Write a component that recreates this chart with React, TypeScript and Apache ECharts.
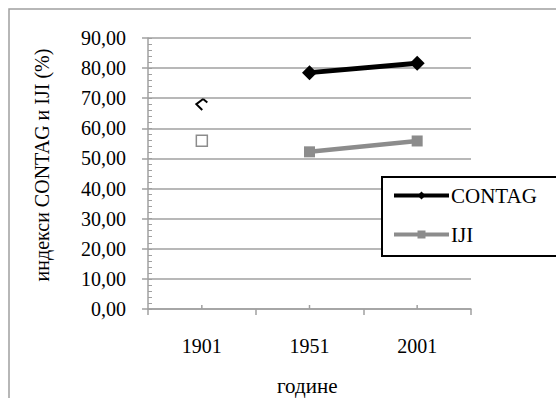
import React, { useEffect, useRef } from "react";
import * as echarts from "echarts";

const categories = ["1901", "1951", "2001"];
const contag = [null, 78.5, 81.6];
const iji = [null, 52.2, 55.8];
const contag1901 = [67.9, null, null];
const iji1901 = [55.9, null, null];
const yTicks = { min: 0, max: 90, interval: 10 };

const FONT = "Liberation Serif";
const GRAY = "#a0a0a0";
const FS = 20;

export default function App() {
  const ref = useRef<HTMLDivElement>(null);
  useEffect(() => {
    if (!ref.current) return;
    const chart = echarts.init(ref.current, undefined, { renderer: "svg" });
    const fmt = (v: number) => v.toFixed(2).replace(".", ",");
    chart.setOption({
      animation: false,
      backgroundColor: "#fff",
      grid: { left: 148, top: 38, right: 85, bottom: 89 },
      xAxis: [
        {
          type: "category",
          data: categories,
          boundaryGap: true,
          axisLine: { lineStyle: { color: GRAY, width: 1.5 } },
          axisTick: { show: true, length: 6, lineStyle: { color: GRAY, width: 1.5 } },
          axisLabel: { color: "#000", fontSize: FS, fontFamily: FONT, margin: 27 },
        },
      ],
      yAxis: [
        {
          type: "value",
          ...yTicks,
          axisLine: { show: true, lineStyle: { color: GRAY, width: 1.5 } },
          axisTick: { show: true, inside: true, length: 4, lineStyle: { color: GRAY, width: 1 } },
          minorTick: { show: true, splitNumber: 5, length: 4, lineStyle: { color: GRAY, width: 1 } },
          splitLine: { show: true, lineStyle: { color: GRAY, width: 1.5 } },
          axisLabel: { color: "#000", fontSize: FS, fontFamily: FONT, margin: 22, formatter: fmt },
        },
        {
          type: "value",
          ...yTicks,
          position: "left",
          axisLine: { show: false },
          axisTick: { show: true, length: 6, lineStyle: { color: GRAY, width: 1.5 } },
          splitLine: { show: false },
          axisLabel: { show: false },
        },
      ],
      legend: {
        data: [
          { name: "CONTAG", lineStyle: { width: 4 } },
          { name: "IJI", lineStyle: { width: 4 } },
        ],
        orient: "vertical",
        left: 392,
        top: 185,
        padding: 0,
        itemWidth: 55,
        itemHeight: 10,
        itemGap: 18,
        textStyle: { fontSize: 21, fontFamily: FONT, color: "#000", padding: [0, 0, 0, -3] },
      },
      graphic: [
        { type: "rect", shape: { x: 9, y: 9, width: 700, height: 600 }, style: { fill: "none", stroke: GRAY, lineWidth: 1.5 }, z: -1 },
        { type: "rect", shape: { x: 382, y: 177, width: 200, height: 79 }, style: { fill: "#fff", stroke: "#000", lineWidth: 2 }, z: 1 },
        {
          type: "text",
          left: 277,
          top: 375,
          style: { text: "године", fontSize: 21, fontFamily: FONT, fill: "#000" },
        },
        {
          type: "text",
          x: 42,
          y: 165,
          rotation: Math.PI / 2,
          style: { text: "индекси CONTAG и IJI (%)", fontSize: FS, fontFamily: FONT, fill: "#000", align: "center", verticalAlign: "middle" },
        },
      ],
      series: [
        {
          name: "CONTAG",
          type: "line",
          data: contag,
          symbol: "diamond",
          symbolSize: 15,
          lineStyle: { width: 5, color: "#000" },
          itemStyle: { color: "#000" },
          z: 3,
        },
        {
          name: "IJI",
          type: "line",
          data: iji,
          symbol: "rect",
          symbolSize: 11,
          lineStyle: { width: 4.5, color: "#8c8c8c" },
          itemStyle: { color: "#8c8c8c" },
          z: 3,
        },
        {
          name: "CONTAG1901",
          type: "line",
          yAxisIndex: 1,
          data: contag1901,
          symbol: "path://M8,0 L0,6 L7,13 M8,0 L13,4",
          symbolSize: [11, 11],
          itemStyle: { color: "rgba(0,0,0,0)", borderColor: "#000", borderWidth: 2 },
          lineStyle: { width: 0 },
          z: 3,
        },
        {
          name: "IJI1901",
          type: "line",
          yAxisIndex: 1,
          data: iji1901,
          symbol: "rect",
          symbolSize: 11,
          itemStyle: { color: "#fff", borderColor: "#8c8c8c", borderWidth: 1.5 },
          lineStyle: { width: 0 },
          z: 3,
        },
        {
          name: "xMinor",
          type: "custom",
          data: categories.map((c, i) => [i, 0]),
          silent: true,
          renderItem: (params: any, api: any) => {
            const p = api.coord([api.value(0), api.value(1)]);
            return {
              type: "line",
              shape: { x1: p[0], y1: p[1], x2: p[0], y2: p[1] - 4 },
              style: { stroke: GRAY, lineWidth: 1.5 },
            };
          },
          encode: { x: 0, y: 1 },
          z: 2,
        },
      ],
    });
    return () => chart.dispose();
  }, []);
  return <div ref={ref} style={{ position: "fixed", left: 0, top: 0, width: 556, height: 398 }} />;
}
